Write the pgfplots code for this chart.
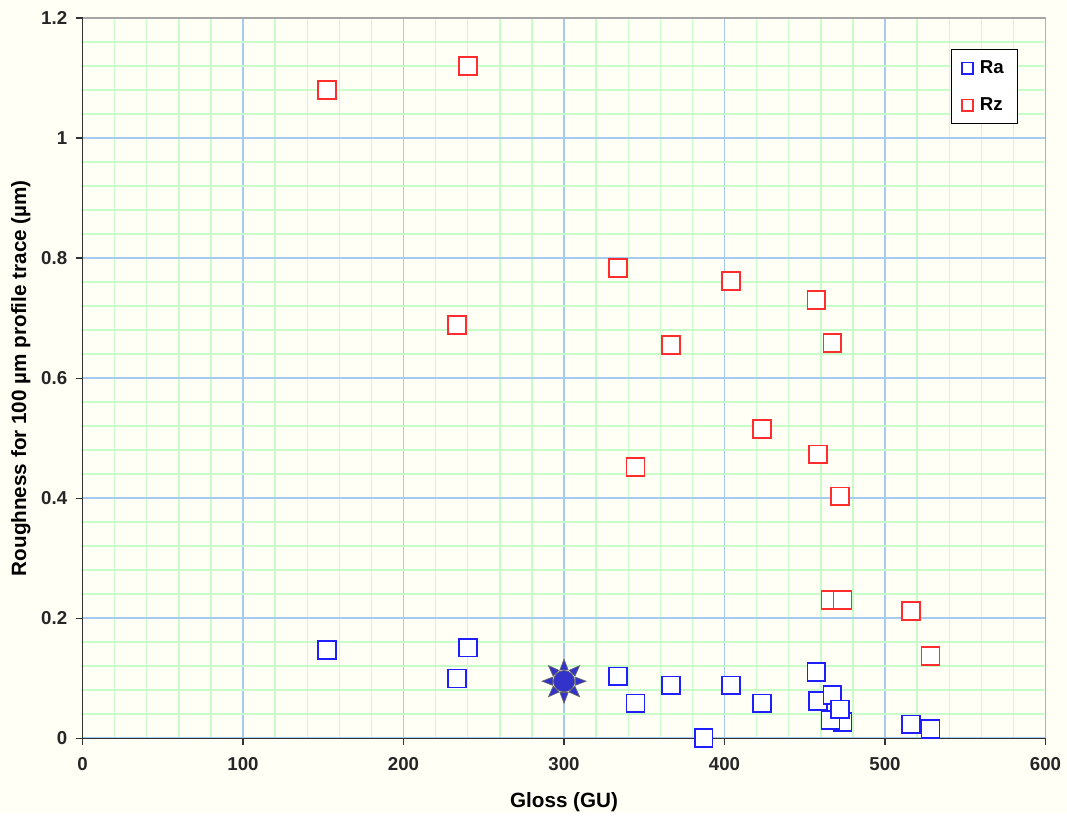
\documentclass[border=0pt]{standalone}
\usepackage{fontspec}
\setmainfont{Liberation Sans}
\usepackage{pgfplots}
\pgfplotsset{compat=1.18}
\definecolor{bgc}{RGB}{255,255,246}
\definecolor{majg}{RGB}{166,202,240}
\definecolor{ming}{RGB}{200,252,200}
\definecolor{rablue}{RGB}{30,30,255}
\definecolor{rzred}{RGB}{255,45,45}
\definecolor{sunfill}{RGB}{51,51,204}

\pgfdeclareplotmark{sun}{%
  \foreach \a in {0,45,...,315}{%
    \pgfmathsetmacro\aa{\a+20}\pgfmathsetmacro\ab{\a-20}%
    \pgfpathmoveto{\pgfpointpolar{\a}{16.5pt}}%
    \pgfpathlineto{\pgfpointpolar{\aa}{9pt}}%
    \pgfpathlineto{\pgfpointpolar{\ab}{9pt}}%
    \pgfpathclose
    \pgfusepathqfillstroke
  }%
  \pgfpathcircle{\pgfpointorigin}{8pt}%
  \pgfusepathqfillstroke
}

\pgfplotstableread{
x y
152.3 0.147
240.2 0.151
233.4 0.0995
333.5 0.103
344.5 0.058
366.8 0.088
387.0 0.000
404.0 0.088
423.2 0.058
457.2 0.110
458.2 0.062
467.2 0.072
473.5 0.027
466.0 0.030
472.1 0.048
516.0 0.023
528.3 0.015
}\Ra

\pgfplotstableread{
x y
152.3 1.080
240.2 1.120
233.4 0.688
333.5 0.783
344.5 0.452
366.8 0.655
404.0 0.762
423.2 0.515
457.2 0.730
458.2 0.473
467.2 0.658
472.1 0.403
466.0 0.230
473.5 0.230
516.0 0.212
528.3 0.137
}\Rz

\begin{document}
\begin{tikzpicture}
\fill[bgc] (-61.9pt,-56.25pt) rectangle (738.1pt,553.5pt);
\begin{axis}[
  at={(0,0)}, anchor=south west,
  scale only axis, width=722pt, height=540pt,
  xmin=0, xmax=600, ymin=0, ymax=1.2,
  xtick={0,100,200,300,400,500,600},
  ytick={0,0.2,0.4,0.6,0.8,1,1.2},
  minor x tick num=4, minor y tick num=4,
  grid=both,
  major grid style={majg, line width=1.1pt},
  minor grid style={ming, line width=1.1pt},
  axis background/.style={fill=bgc},
  axis lines=left, axis line style={-, black!80, line width=0.9pt},
  tick align=outside, major tick length=5pt, minor tick length=0pt,
  major tick style={black!80, line width=0.9pt},
  ticklabel style={font=\bfseries\fontsize{14}{16}\selectfont, text=black!85},
  xticklabel style={yshift=-6pt},
  yticklabel style={xshift=-3pt},
  /pgf/number format/assume math mode=true,
  label style={font=\bfseries\fontsize{15.5}{18}\selectfont},
  xlabel={Gloss (GU)},
  ylabel={Roughness for 100 µm profile trace (µm)},
  xlabel style={at={(axis description cs:0.5,-0.089)}, anchor=center},
  ylabel style={at={(axis description cs:-0.064,0.5)}, anchor=center},
  legend style={at={(0.971,0.957)}, anchor=north east, fill=white, draw=black,
    line width=0.8pt, font=\bfseries\fontsize{14}{16}\selectfont,
    row sep=12.5pt, column sep=3pt, inner xsep=8pt, inner ysep=6.5pt},
  legend cell align=left,
  legend image post style={mark size=4.3pt, line width=0.9pt},
]
\addplot[only marks, mark=square*, mark size=6.7pt,
  mark options={draw=rablue, fill=white, line width=1.3pt}] table {\Ra};
\addlegendentry{Ra}
\addplot[only marks, mark=square*, mark size=6.7pt,
  mark options={draw=rzred, fill=white, line width=1.3pt}] table {\Rz};
\addlegendentry{Rz}
\addplot[only marks, mark=sun, forget plot,
  mark options={fill=sunfill, draw=black!60, line width=0.5pt}] coordinates {(300,0.095)};
\draw[gray!70, line width=0.9pt] (rel axis cs:0,1) -- (rel axis cs:1,1) -- (rel axis cs:1,0);
\end{axis}
\end{tikzpicture}
\end{document}
